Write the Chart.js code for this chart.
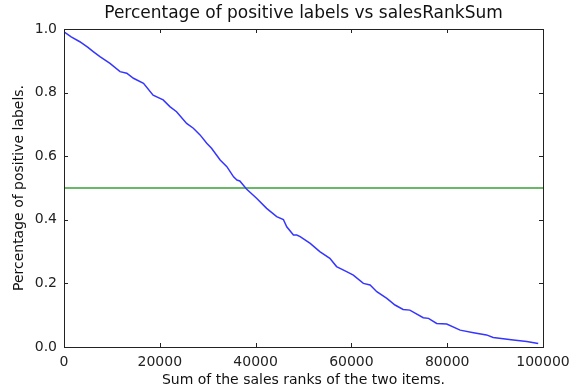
<!DOCTYPE html>
<html>
<head>
<meta charset="utf-8">
<script src="https://cdn.jsdelivr.net/npm/chart.js@4"></script>
<style>
  html, body { margin: 0; padding: 0; background: #fff; }
  canvas { display: block; }
</style>
</head>
<body>
<canvas id="grafico" width="569" height="390"></canvas>
<script>
// datos
const rankSum = [0, 1500, 3300, 5000, 6100, 7500, 9600, 11700, 13100, 14500, 16600, 18600, 20700, 22100,
  23500, 25600, 27000, 28400, 29800, 30800, 32600, 34000, 35400, 36100, 36700, 38100, 40200, 42300,
  44400, 45800, 46500, 47900, 48600, 49300, 51400, 53400, 55500, 56900, 59000, 60400, 62500, 63900,
  65300, 67400, 69100, 70800, 72200, 75000, 76100, 77800, 79900, 82700, 85500, 88200, 89600, 93800,
  96600, 98700, 99000];
const pctPositive = [0.991, 0.975, 0.960, 0.942, 0.929, 0.913, 0.892, 0.866, 0.861, 0.845, 0.829, 0.792,
  0.777, 0.756, 0.740, 0.703, 0.688, 0.667, 0.641, 0.625, 0.588, 0.567, 0.535, 0.525, 0.522, 0.497,
  0.468, 0.436, 0.410, 0.401, 0.378, 0.352, 0.352, 0.347, 0.326, 0.300, 0.279, 0.253, 0.237, 0.226,
  0.200, 0.195, 0.174, 0.153, 0.132, 0.118, 0.116, 0.092, 0.090, 0.074, 0.072, 0.053, 0.045, 0.038,
  0.030, 0.022, 0.017, 0.012, 0.011];
const umbralX = [0, 100000];
const umbralY = [0.5, 0.5];
const xTicks = [0, 20000, 40000, 60000, 80000, 100000];
const yTicks = [0.0, 0.2, 0.4, 0.6, 0.8, 1.0];

const fuente = 'DejaVu Sans';

// marco y ticks hacia adentro estilo matplotlib
const marco = {
  id: 'marco',
  afterDraw(chart) {
    const { ctx, chartArea: a, scales } = chart;
    ctx.save();
    ctx.strokeStyle = '#222';
    ctx.lineWidth = 1;
    ctx.strokeRect(a.left + 0.5, a.top + 0.5, a.right - a.left, a.bottom - a.top);
    xTicks.forEach(v => {
      const x = Math.round(scales.x.getPixelForValue(v)) + 0.5;
      ctx.beginPath();
      ctx.moveTo(x, a.bottom); ctx.lineTo(x, a.bottom - 4);
      ctx.moveTo(x, a.top); ctx.lineTo(x, a.top + 4);
      ctx.stroke();
    });
    yTicks.forEach(v => {
      const y = Math.round(scales.y.getPixelForValue(v)) + 0.5;
      ctx.beginPath();
      ctx.moveTo(a.left, y); ctx.lineTo(a.left + 4, y);
      ctx.moveTo(a.right, y); ctx.lineTo(a.right - 4, y);
      ctx.stroke();
    });
    ctx.restore();
  }
};

const grafico = new Chart(document.getElementById('grafico'), {
  type: 'line',
  data: {
    datasets: [
      {
        data: rankSum.map((x, i) => ({ x: x, y: pctPositive[i] })),
        borderColor: '#3535ff',
        borderWidth: 1.5,
        pointRadius: 0,
        fill: false,
        tension: 0,
      },
      {
        data: umbralX.map((x, i) => ({ x: x, y: umbralY[i] })),
        borderColor: '#36a036',
        borderWidth: 1.6,
        pointRadius: 0,
        fill: false,
      },
    ],
  },
  plugins: [marco],
  options: {
    responsive: false,
    animation: false,
    layout: { padding: { left: 0, right: 26, top: 0, bottom: 0 } },
    plugins: {
      legend: { display: false },
      tooltip: { enabled: false },
    },
    scales: {
      x: {
        type: 'linear',
        min: 0,
        max: 100000,
        afterFit: s => { s.height = 43; s.paddingLeft = 0; s.paddingRight = 0; },
        afterBuildTicks: s => { s.ticks = xTicks.map(v => ({ value: v })); },
        grid: { display: false, drawTicks: false },
        border: { display: false },
        ticks: {
          color: '#222',
          font: { family: fuente, size: 14 },
          padding: 7,
          maxRotation: 0,
          callback: v => String(v),
        },
        title: {
          display: true,
          text: 'Sum of the sales ranks of the two items.',
          color: '#111',
          font: { family: fuente, size: 14 },
          padding: { top: 2, bottom: 1 },
        },
      },
      // eje superior solo para el titulo centrado sobre el area del grafico
      x2: {
        type: 'linear',
        position: 'top',
        min: 0,
        max: 100000,
        afterFit: s => { s.height = 29; s.paddingLeft = 0; s.paddingRight = 0; },
        grid: { display: false, drawTicks: false },
        border: { display: false },
        ticks: { display: false },
        title: {
          display: true,
          text: 'Percentage of positive labels vs salesRankSum',
          color: '#111',
          font: { family: fuente, size: 17 },
          padding: { top: 3, bottom: 0 },
        },
      },
      y: {
        type: 'linear',
        min: 0,
        max: 1,
        afterFit: s => { s.width = 64; },
        afterBuildTicks: s => { s.ticks = yTicks.map(v => ({ value: v })); },
        grid: { display: false, drawTicks: false },
        border: { display: false },
        ticks: {
          color: '#222',
          font: { family: fuente, size: 14 },
          padding: 7,
          callback: v => v.toFixed(1),
        },
        title: {
          display: true,
          text: 'Percentage of positive labels.',
          color: '#111',
          font: { family: fuente, size: 14 },
          padding: { top: 11, bottom: 4 },
        },
      },
    },
  },
});
</script>
</body>
</html>
